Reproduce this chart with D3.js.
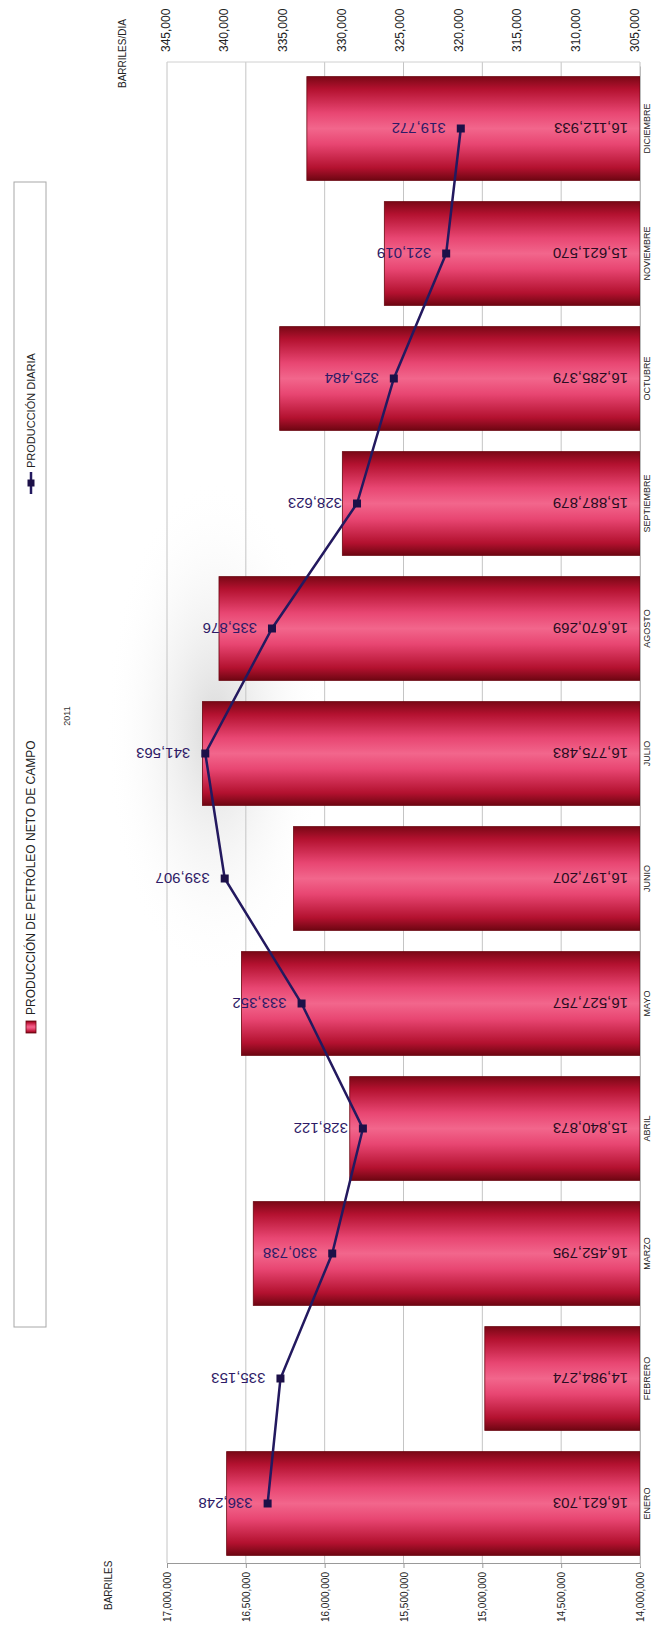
<!DOCTYPE html>
<html><head><meta charset="utf-8">
<script src="https://cdn.jsdelivr.net/npm/d3@7"></script>
<style>
html,body{margin:0;padding:0;background:#fff;}
svg{display:block;font-family:"Liberation Sans",Arial,sans-serif;}
</style></head>
<body>
<svg id="c" width="652" height="1628"></svg>
<script>
const months = ["ENERO","FEBRERO","MARZO","ABRIL","MAYO","JUNIO","JULIO","AGOSTO","SEPTIEMBRE","OCTUBRE","NOVIEMBRE","DICIEMBRE"];
const monthlyBarrels = [16621703,14984274,16452795,15840873,16527757,16197207,16775483,16670269,15887879,16285379,15621570,16112933];
const dailyBarrels = [336248,335153,330738,328122,333352,339907,341563,335876,328623,325484,321019,319772];
const primaryTicks = [14000000,14500000,15000000,15500000,16000000,16500000,17000000];
const secondaryTicks = [305000,310000,315000,320000,325000,330000,335000,340000,345000];
const barSeriesName = "PRODUCCIÓN DE PETRÓLEO NETO DE CAMPO";
const lineSeriesName = "PRODUCCIÓN DIARIA";
const primaryTitle = "BARRILES";
const secondaryTitle = "BARRILES/DIA";
const chartTitle = "2011";

const fmt = d3.format(",");
const svg = d3.select("#c");
const defs = svg.append("defs");

// plot geometry (chart is shown rotated: value axes run horizontally)
const plotLeft = 167, plotRight = 640, plotTop = 62, plotBottom = 1563;
const xPrim = d3.scaleLinear().domain([14000000,17000000]).range([plotRight, plotLeft]);
const xSec = d3.scaleLinear().domain([305000,345000]).range([634, 165]);
const y = d3.scaleBand().domain(months).range([1566, 66]).paddingInner(0.17).paddingOuter(0.085);
const bw = y.bandwidth();

// gradients
const g1 = defs.append("linearGradient").attr("id","barGrad").attr("x1",0).attr("y1",0).attr("x2",0).attr("y2",1);
[[0,"#7a0816"],[0.12,"#b3112f"],[0.35,"#e84672"],[0.5,"#f2668c"],[0.65,"#e84672"],[0.88,"#b3112f"],[1,"#6e0612"]]
  .forEach(s=>g1.append("stop").attr("offset",s[0]).attr("stop-color",s[1]));
const rg = defs.append("radialGradient").attr("id","glow").attr("cx","50%").attr("cy","50%").attr("r","50%");
rg.append("stop").attr("offset",0).attr("stop-color","#c8c8c8").attr("stop-opacity",0.7);
rg.append("stop").attr("offset",1).attr("stop-color","#ffffff").attr("stop-opacity",0);

// plot background glow
svg.append("ellipse").attr("cx",215).attr("cy",730).attr("rx",110).attr("ry",250).attr("fill","url(#glow)");

// gridlines (primary axis)
svg.append("g").selectAll("line").data(primaryTicks).join("line")
  .attr("x1",d=>xPrim(d)).attr("x2",d=>xPrim(d)).attr("y1",plotTop).attr("y2",plotBottom)
  .attr("stroke","#c4c4c4").attr("stroke-width",1);
svg.append("line").attr("x1",plotLeft).attr("x2",plotRight).attr("y1",plotTop).attr("y2",plotTop)
  .attr("stroke","#d0d0d0");

// bars
svg.append("g").selectAll("rect").data(months).join("rect")
  .attr("x",(m,i)=>xPrim(monthlyBarrels[i]))
  .attr("y",m=>y(m))
  .attr("width",(m,i)=>xPrim(14000000)-xPrim(monthlyBarrels[i]))
  .attr("height",bw)
  .attr("fill","url(#barGrad)")
  .attr("stroke","#6a0610").attr("stroke-width",0.8);

// bar labels (rotated 180)
svg.append("g").selectAll("text").data(months).join("text")
  .attr("transform",m=>`translate(${xPrim(14000000)-12},${y(m)+bw/2}) rotate(180)`)
  .attr("text-anchor","start").attr("dy","0.35em")
  .attr("font-size",15).attr("fill","#2a0c22")
  .text((m,i)=>fmt(monthlyBarrels[i]));

// line
const pts = months.map((m,i)=>({m, v:dailyBarrels[i]}));
const line = d3.line().x(d=>xSec(d.v)).y(d=>y(d.m)+bw/2);
svg.append("path").datum(pts).attr("d",line).attr("fill","none")
  .attr("stroke","#23195f").attr("stroke-width",2.5);
svg.append("g").selectAll("rect").data(pts).join("rect")
  .attr("x",d=>xSec(d.v)-4).attr("y",d=>y(d.m)+bw/2-4).attr("width",8).attr("height",8)
  .attr("fill","#1c1048");
svg.append("g").selectAll("text").data(pts).join("text")
  .attr("transform",d=>`translate(${xSec(d.v)-15},${y(d.m)+bw/2}) rotate(180)`)
  .attr("text-anchor","start").attr("dy","0.35em")
  .attr("font-size",15).attr("fill","#2e1a66")
  .text(d=>fmt(d.v));

// primary axis (bottom)
const axP = svg.append("g").attr("transform",`translate(0,${plotBottom})`)
  .call(d3.axisBottom(xPrim).tickValues(primaryTicks).tickFormat(fmt).tickSize(5).tickSizeOuter(0));
axP.select(".domain").attr("stroke","#999");
axP.selectAll(".tick line").attr("stroke","#999");
axP.selectAll(".tick text").attr("transform","rotate(-90)").attr("x",-9).attr("y",0)
  .attr("dy","0.35em").attr("text-anchor","end").attr("font-size",10).attr("fill","#222");

// secondary axis (top)
const axS = svg.append("g").attr("transform",`translate(0,${plotTop})`)
  .call(d3.axisTop(xSec).tickValues(secondaryTicks).tickFormat(fmt).tickSize(0));
axS.select(".domain").remove();
axS.selectAll(".tick text").attr("transform","rotate(-90)").attr("x",10).attr("y",0)
  .attr("dy","0.35em").attr("text-anchor","start").attr("font-size",12).attr("fill","#222");

// category axis (right)
const axC = svg.append("g").attr("transform",`translate(${plotRight},0)`)
  .call(d3.axisRight(y).tickSize(0));
axC.select(".domain").attr("stroke","#bbb");
axC.selectAll(".tick text").attr("transform","translate(10,0) rotate(-90)").attr("x",0).attr("y",0)
  .attr("dy",0).attr("text-anchor","middle").attr("font-size",9).attr("fill","#222");

// axis titles
svg.append("text").attr("transform","translate(126,88) rotate(-90)").attr("text-anchor","start")
  .attr("font-size",10).attr("fill","#222").text(secondaryTitle);
svg.append("text").attr("transform","translate(112,1610) rotate(-90)").attr("text-anchor","start")
  .attr("font-size",10).attr("fill","#222").text(primaryTitle);
svg.append("text").attr("transform","translate(70,716) rotate(-90)").attr("text-anchor","middle")
  .attr("font-size",9).attr("fill","#333").text(chartTitle);

// legend
svg.append("rect").attr("x",14).attr("y",182).attr("width",32).attr("height",1145)
  .attr("fill","#fff").attr("stroke","#a8a8a8");
svg.append("rect").attr("x",26).attr("y",1021).attr("width",10).attr("height",12)
  .attr("fill","url(#barGrad)").attr("stroke","#6a0610").attr("stroke-width",0.8);
svg.append("text").attr("transform","translate(35,1015) rotate(-90)").attr("text-anchor","start")
  .attr("font-size",12).attr("fill","#222").text(barSeriesName);
svg.append("line").attr("x1",31).attr("x2",31).attr("y1",472).attr("y2",494)
  .attr("stroke","#23195f").attr("stroke-width",2.5);
svg.append("rect").attr("x",27.5).attr("y",479.5).attr("width",7).attr("height",7).attr("fill","#1c1048");
svg.append("text").attr("transform","translate(35,468) rotate(-90)").attr("text-anchor","start")
  .attr("font-size",11).attr("fill","#222").text(lineSeriesName);
</script>
</body></html>
